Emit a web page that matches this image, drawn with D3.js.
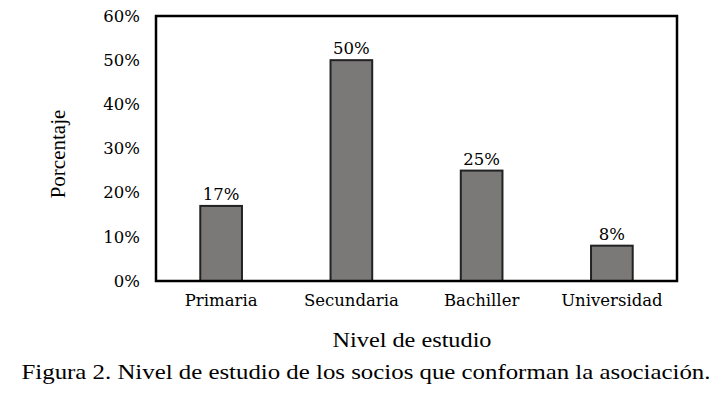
<!DOCTYPE html>
<html>
<head>
<meta charset="utf-8">
<script src="https://cdn.jsdelivr.net/npm/d3@7"></script>
<style>
  body { margin: 0; background: #fff; }
  svg text { fill: #000; }
</style>
</head>
<body>
<div id="chart"></div>
<script>
// datos
var categorias = ["Primaria", "Secundaria", "Bachiller", "Universidad"];
var porcentajes = [17, 50, 25, 8];
var ticksY = [0, 10, 20, 30, 40, 50, 60];

var width = 726, height = 397;
var margin = {top: 16, right: 49, bottom: 116, left: 156};
var w = width - margin.left - margin.right;
var h = height - margin.top - margin.bottom;

var svg = d3.select("#chart").append("svg")
    .attr("width", width)
    .attr("height", height);

var g = svg.append("g").attr("transform", "translate(" + margin.left + "," + margin.top + ")");

var x = d3.scaleBand()
    .domain(categorias)
    .range([0, w])
    .paddingInner(0.68)
    .paddingOuter(0.34);

var y = d3.scaleLinear()
    .domain([0, 60])
    .range([h, 0]);

// eje y
var ejeY = g.append("g")
    .call(d3.axisLeft(y).tickValues(ticksY).tickSize(0).tickPadding(16).tickFormat(d => d + "%"));
ejeY.select(".domain").remove();
ejeY.selectAll("text")
    .attr("font-family", "DejaVu Serif")
    .attr("font-size", "16.5px")
    .attr("fill", "#000");

// eje x
var ejeX = g.append("g")
    .attr("transform", "translate(0," + h + ")")
    .call(d3.axisBottom(x).tickSize(0).tickPadding(13));
ejeX.select(".domain").remove();
ejeX.selectAll("text")
    .attr("font-family", "DejaVu Serif")
    .attr("font-size", "16.5px")
    .attr("fill", "#000");

// barras
g.selectAll(".barra")
    .data(porcentajes)
    .enter()
    .append("rect")
    .attr("class", "barra")
    .attr("x", (d, i) => x(categorias[i]))
    .attr("y", d => y(d))
    .attr("width", x.bandwidth())
    .attr("height", d => h - y(d))
    .attr("fill", "#7b7878")
    .attr("stroke", "#222")
    .attr("stroke-width", 2);

// etiquetas de valor
g.selectAll(".valor")
    .data(porcentajes)
    .enter()
    .append("text")
    .attr("class", "valor")
    .attr("text-anchor", "middle")
    .attr("font-family", "DejaVu Serif")
    .attr("font-size", "16.5px")
    .attr("x", (d, i) => x(categorias[i]) + x.bandwidth() / 2)
    .attr("y", d => y(d) - 6)
    .text(d => d + "%");

// marco del area de grafico
g.append("rect")
    .attr("x", 0).attr("y", 0)
    .attr("width", w).attr("height", h)
    .attr("fill", "none")
    .attr("stroke", "#000")
    .attr("stroke-width", 2.5);

// titulos
svg.append("text")
    .attr("transform", "translate(65,154) rotate(-90)")
    .attr("text-anchor", "middle")
    .attr("font-family", "Liberation Serif")
    .attr("font-size", "21px")
    .text("Porcentaje");

svg.append("text")
    .attr("x", 412)
    .attr("y", 347)
    .attr("text-anchor", "middle")
    .attr("font-family", "Liberation Serif")
    .attr("font-size", "21px")
    .attr("textLength", 159)
    .attr("lengthAdjust", "spacingAndGlyphs")
    .text("Nivel de estudio");

svg.append("text")
    .attr("x", 366)
    .attr("y", 379)
    .attr("text-anchor", "middle")
    .attr("font-family", "Liberation Serif")
    .attr("font-size", "21px")
    .attr("textLength", 689)
    .attr("lengthAdjust", "spacingAndGlyphs")
    .text("Figura 2. Nivel de estudio de los socios que conforman la asociación.");
</script>
</body>
</html>
